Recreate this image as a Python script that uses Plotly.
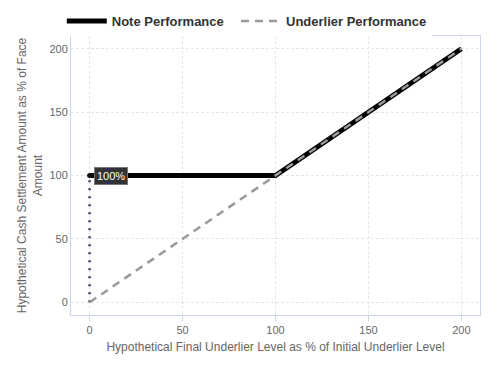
import plotly.graph_objects as go

note_x = [0, 100, 200]
note_y = [100, 100, 200]
under_x = [0, 200]
under_y = [0, 200]
floor_x = [0, 0]
floor_y = [0, 100]
label_x = 0
label_y = 100
label_text = "100%"

FONT = "Liberation Sans, Arial, sans-serif"

fig = go.Figure()
fig.add_trace(go.Scatter(x=floor_x, y=floor_y, mode="lines", showlegend=False,
                         line=dict(color="#2c3e66", width=2.5, dash="2px,6px"), hoverinfo="skip"))
fig.add_trace(go.Scatter(x=note_x, y=note_y, mode="lines", name="Note Performance\u00a0\u00a0",
                         line=dict(color="#000000", width=5)))
fig.add_trace(go.Scatter(x=under_x, y=under_y, mode="lines", name="Underlier Performance",
                         line=dict(color="#999999", width=2.5, dash="8px,6px")))
fig.add_trace(go.Scatter(x=[label_x], y=[label_y], mode="markers", showlegend=False,
                         marker=dict(color="#111111", size=5)))
fig.add_annotation(x=label_x, y=label_y, text=label_text, showarrow=False,
                   xanchor="left", xshift=4, bgcolor="#333333", bordercolor="#777777",
                   borderwidth=1, borderpad=2, font=dict(color="#ffffff", size=11, family=FONT))

axis_common = dict(showgrid=True, gridcolor="#e6e6e6", griddash="3px,2px", gridwidth=1,
                   zeroline=False, showline=True, linecolor="#ccd6eb", linewidth=1, mirror=True,
                   tickfont=dict(color="#666666", size=11, family=FONT),
                   tickvals=[0, 50, 100, 150, 200], automargin=False)
fig.update_xaxes(range=[-10, 210], ticks="outside", ticklen=5, tickcolor="#ccd6eb",
                 title=dict(text="Hypothetical Final Underlier Level as % of Initial Underlier Level",
                            font=dict(color="#666666", size=12, family=FONT), standoff=7), **axis_common)
fig.update_yaxes(range=[-10, 210], ticks="", ticklen=4,
                 title=dict(text="Hypothetical Cash Settlement Amount as % of Face<br>Amount",
                            font=dict(color="#666666", size=12, family=FONT), standoff=4), **axis_common)
fig.update_layout(width=489, height=372, margin=dict(l=63, r=17, t=25, b=65),
                  plot_bgcolor="white", paper_bgcolor="white",
                  font=dict(family=FONT, color="#666666"),
                  showlegend=True,
                  legend=dict(orientation="h", xref="container", x=0.110, xanchor="left",
                              yref="container", y=0.965, yanchor="middle",
                              font=dict(size=13, color="#333333", weight="bold", family=FONT),
                              traceorder="normal", itemwidth=40))
fig.write_html("out.html")
